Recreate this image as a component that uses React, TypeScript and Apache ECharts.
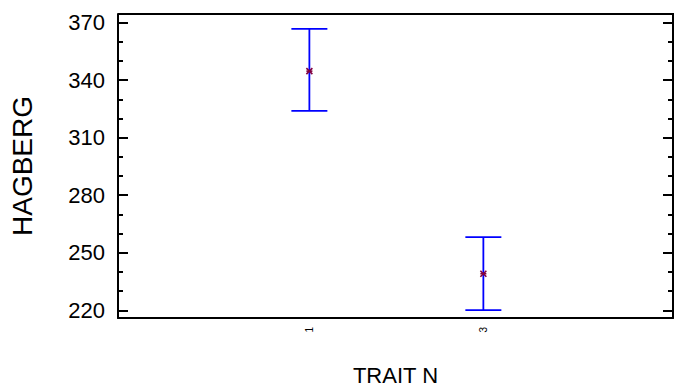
import React, { useEffect, useRef } from "react";
import * as echarts from "echarts";

const categories = [1, 3];
const means = [344.7, 239.1];
const lowers = [324.0, 220.1];
const uppers = [366.7, 258.2];
const yMajorTicks = [220, 250, 280, 310, 340, 370];
const yMinorTicks = [230, 240, 260, 270, 290, 300, 320, 330, 350, 360];
const xTickLabels = [1, 3];

const FONT = "'Liberation Sans', Arial, sans-serif";

export default function App() {
  const ref = useRef<HTMLDivElement>(null);
  useEffect(() => {
    document.body.style.margin = "0";
    document.body.style.overflow = "hidden";
    const chart = echarts.init(ref.current!, null, { renderer: "svg" });
    const yMin = 216.0;
    const yMax = 374.5;
    const baseY = {
      type: "value" as const,
      min: yMin,
      max: yMax,
      splitLine: { show: false },
    };
    chart.setOption({
      animation: false,
      backgroundColor: "#fff",
      grid: { left: 118, right: 2, top: 14, bottom: 70 },
      xAxis: {
        type: "value",
        min: -1.2,
        max: 5.18,
        name: "TRAIT N",
        nameLocation: "middle",
        nameGap: 46,
        nameTextStyle: { fontFamily: FONT, fontSize: 22, color: "#000" },
        axisLine: { show: true, onZero: false, lineStyle: { color: "#000", width: 2 } },
        axisTick: { show: false },
        splitLine: { show: false },
        axisLabel: {
          customValues: xTickLabels,
          rotate: 90,
          margin: 9,
          fontFamily: FONT,
          fontSize: 10,
          color: "#000",
          formatter: (v: number) => String(v),
        },
      },
      yAxis: [
        {
          ...baseY,
          position: "left",
          name: "HAGBERG",
          nameLocation: "middle",
          nameGap: 82,
          nameTextStyle: { fontFamily: FONT, fontSize: 28, color: "#000" },
          axisLine: { show: true, onZero: false, lineStyle: { color: "#000", width: 2 } },
          axisTick: {
            show: true,
            inside: true,
            length: 10,
            customValues: yMajorTicks,
            lineStyle: { color: "#000", width: 2 },
          },
          axisLabel: {
            customValues: yMajorTicks,
            margin: 13,
            fontFamily: FONT,
            fontSize: 22,
            color: "#000",
          },
        },
        {
          ...baseY,
          position: "left",
          axisLine: { show: false, onZero: false },
          axisTick: {
            show: true,
            inside: true,
            length: 5,
            customValues: yMinorTicks,
            lineStyle: { color: "#000", width: 2 },
          },
          axisLabel: { show: false },
        },
        {
          ...baseY,
          position: "right",
          axisLine: { show: true, onZero: false, lineStyle: { color: "#000", width: 2 } },
          axisTick: {
            show: true,
            inside: true,
            length: 10,
            customValues: yMajorTicks,
            lineStyle: { color: "#000", width: 2 },
          },
          axisLabel: { show: false },
        },
        {
          ...baseY,
          position: "right",
          axisLine: { show: false, onZero: false },
          axisTick: {
            show: true,
            inside: true,
            length: 5,
            customValues: yMinorTicks,
            lineStyle: { color: "#000", width: 2 },
          },
          axisLabel: { show: false },
        },
      ],
      graphic: [
        {
          type: "line",
          shape: { x1: 118, y1: 14, x2: 674, y2: 14 },
          style: { stroke: "#000", lineWidth: 2 },
        },
      ],
      series: [
        {
          type: "custom",
          yAxisIndex: 0,
          data: categories.map((c, i) => [c, lowers[i], uppers[i], means[i]]),
          renderItem: (params: any, api: any) => {
            const x = api.value(0);
            const lo = api.coord([x, api.value(1)]);
            const hi = api.coord([x, api.value(2)]);
            const m = api.coord([x, api.value(3)]);
            const hw = 18;
            const blue = { stroke: "#0000ff", lineWidth: 1.8 };
            const mk = { stroke: "#800040", lineWidth: 1.6 };
            const s = 3;
            return {
              type: "group",
              children: [
                { type: "line", shape: { x1: hi[0], y1: hi[1], x2: lo[0], y2: lo[1] }, style: blue },
                { type: "line", shape: { x1: hi[0] - hw, y1: hi[1], x2: hi[0] + hw, y2: hi[1] }, style: blue },
                { type: "line", shape: { x1: lo[0] - hw, y1: lo[1], x2: lo[0] + hw, y2: lo[1] }, style: blue },
                { type: "line", shape: { x1: m[0] - s, y1: m[1] - s, x2: m[0] + s, y2: m[1] + s }, style: mk },
                { type: "line", shape: { x1: m[0] - s, y1: m[1] + s, x2: m[0] + s, y2: m[1] - s }, style: mk },
                { type: "line", shape: { x1: m[0] - s, y1: m[1], x2: m[0] + s, y2: m[1] }, style: mk },
              ],
            };
          },
        },
      ],
    });
    return () => chart.dispose();
  }, []);
  return <div ref={ref} style={{ width: 675, height: 391 }} />;
}
